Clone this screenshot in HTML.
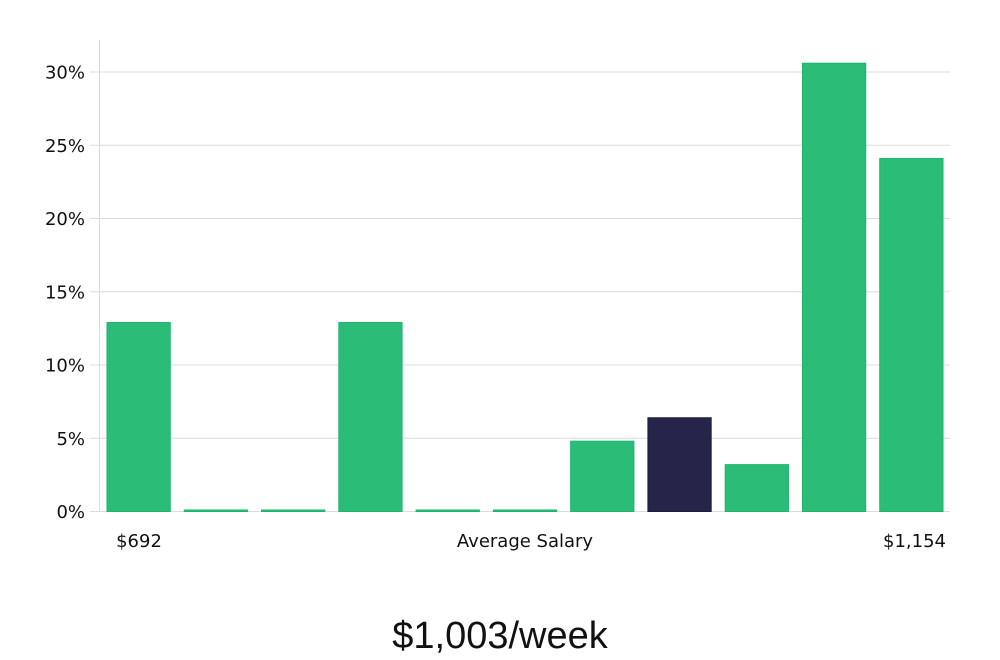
<!DOCTYPE html>
<html><head><meta charset="utf-8"><style>
html,body{margin:0;padding:0;background:#fff;}
svg{display:block;font-family:"DejaVu Sans","Liberation Sans",sans-serif;}
</style></head><body>
<svg id="chart" width="1000" height="660" viewBox="0 0 1000 660" xmlns="http://www.w3.org/2000/svg">
<g id="grid"></g>
<line x1="99.5" y1="40" x2="99.5" y2="512" stroke="#dcdcdc" stroke-width="1"/>
<g id="bars"></g>
<text x="139" y="547" font-size="18" text-anchor="middle" fill="#111">$692</text>
<text x="525" y="547" font-size="18" text-anchor="middle" fill="#111">Average Salary</text>
<text x="946" y="547" font-size="18" text-anchor="end" fill="#111">$1,154</text>
<text x="500" y="648" font-size="38" text-anchor="middle" fill="#111" font-family="'Liberation Sans',sans-serif" font-weight="300">$1,003/week</text>
</svg>
<script>
const values = [12.9, 0, 0, 12.9, 0, 0, 4.8, 6.4, 3.2, 30.6, 24.1];
const highlight = [false, false, false, false, false, false, false, true, false, false, false];
const ticks = [0, 5, 10, 15, 20, 25, 30];
const tickLabels = ["0%", "5%", "10%", "15%", "20%", "25%", "30%"];

const NS = "http://www.w3.org/2000/svg";
const x0 = 100, x1 = 950, y0 = 511.5, pxPer = (511.5 - 72) / 30;
const y = v => y0 - v * pxPer;
const band = (x1 - x0) / values.length;
const xb = i => x0 + i * band + 7;
const bw = band - 14;

const grid = document.getElementById('grid');
ticks.forEach((t, i) => {
  const l = document.createElementNS(NS, 'line');
  
  
  l.setAttribute('x1', 90); l.setAttribute('x2', x1);
  l.setAttribute('y1', y(t)); l.setAttribute('y2', y(t));
  l.setAttribute('stroke', '#dcdcdc'); l.setAttribute('stroke-width', '1');
  grid.appendChild(l);
  const tx = document.createElementNS(NS, 'text');
  
  
  tx.setAttribute('x', 85); tx.setAttribute('y', y(t) + 6.5);
  tx.setAttribute('text-anchor', 'end'); tx.setAttribute('font-size', '18'); tx.setAttribute('fill', '#111');
  tx.textContent = tickLabels[i];
  grid.appendChild(tx);
});
const bars = document.getElementById('bars');
values.forEach((v, i) => {
  const r = document.createElementNS(NS, 'rect');
  
  
  const h = Math.max(v * pxPer, 1.5);
  r.setAttribute('x', xb(i)); r.setAttribute('width', bw);
  r.setAttribute('y', y0 - h); r.setAttribute('height', h);
  r.setAttribute('fill', highlight[i] ? '#27244a' : '#2bbd77');
  r.setAttribute('stroke', highlight[i] ? '#1e1b3e' : '#1db56e');
  r.setAttribute('stroke-width', '1');
  bars.appendChild(r);
});
</script>
</body></html>
